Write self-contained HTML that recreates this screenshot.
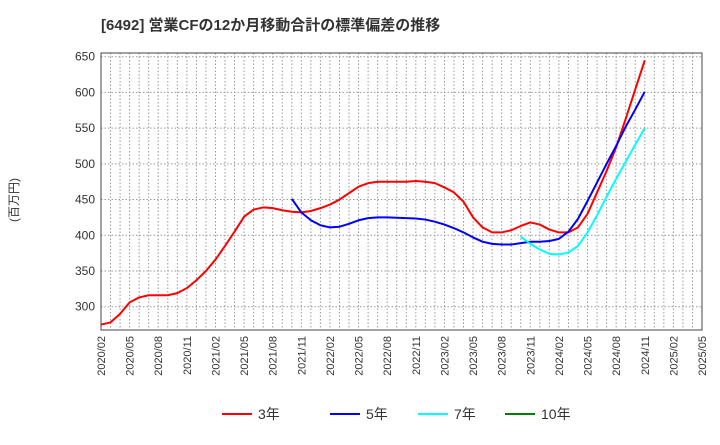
<!DOCTYPE html>
<html><head><meta charset="utf-8"><style>
body{margin:0;background:#fff;font-family:"Liberation Sans","Noto Sans CJK JP",sans-serif;}
svg text{font-family:"Liberation Sans","Noto Sans CJK JP",sans-serif;}
</style></head><body>
<svg id="c" width="720" height="440" xmlns="http://www.w3.org/2000/svg">
<text x="101" y="30" font-size="15" font-weight="bold" fill="#333">[6492]  営業CFの12か月移動合計の標準偏差の推移</text>
<text transform="translate(18,200) rotate(-90)" text-anchor="middle" font-size="12" fill="#333">(百万円)</text>
<g id="grid"></g><g id="axes"></g><g id="series"></g><g id="legend"></g>
</svg>
<script>
const yTicks=[300,350,400,450,500,550,600,650];
const xLabels=["2020/02","2020/05","2020/08","2020/11","2021/02","2021/05","2021/08","2021/11","2022/02","2022/05","2022/08","2022/11","2023/02","2023/05","2023/08","2023/11","2024/02","2024/05","2024/08","2024/11","2025/02","2025/05"];
const s3=[275,278,290,306,313,316,316,316,319,326,337,350,366,385,405,426,436,439,438,435,433,432,434,438,443,450,459,468,473,475,475,475,475,476,475,473,467,460,447,425,411,404,404,407,413,418,415,408,404,404,411,430,460,490,523,563,604,645];
const s3Start=0;
const s5=[451,432,421,414,411,412,416,421,424,425,425,424.5,424,423.5,422,419,415,410,404,397,391,388,387,387,389,391,391,392,395,405,423,448,474,500,525,552,576,601];
const s5Start=20;
const s7=[398,388,380,374,373,376,385,404,428,454,479,503,527,550];
const s7Start=44;
const s10=[];
const L=101,R=702,T=53,B=330,NM=63;
const xs=i=>L+(R-L)*i/NM;
const ys=v=>56.7+(650-v)*(250/350);
const NS="http://www.w3.org/2000/svg";
function mk(p,t,a){const e=document.createElementNS(NS,t);for(const k in a)e.setAttribute(k,a[k]);p.appendChild(e);return e;}
const g=document.getElementById('grid'),ax=document.getElementById('axes'),se=document.getElementById('series'),lg=document.getElementById('legend');
for(let i=1;i<NM;i++){const l=mk(g,'line',{x1:xs(i),x2:xs(i),y1:T,y2:B,stroke:'#999','stroke-dasharray':'1.5,2','stroke-width':1});

}
yTicks.forEach(v=>{const l=mk(g,'line',{x1:L,x2:R,y1:ys(v),y2:ys(v),stroke:'#999','stroke-dasharray':'1.5,2','stroke-width':1});


const t=mk(ax,'text',{x:L-6,y:ys(v)+4,'text-anchor':'end','font-size':12,fill:'#333'});t.textContent=v;

});
const fr=mk(ax,'rect',{x:L,y:T,width:R-L,height:B-T,fill:'none',stroke:'#444','stroke-width':1});


xLabels.forEach((s,i)=>{const x=xs(i*3);const t=mk(ax,'text',{transform:`translate(${x+4},${B+6}) rotate(-90)`,'text-anchor':'end','font-size':11,fill:'#333'});t.textContent=s;

});
function line(arr,st,col,name){if(!arr.length)return;const p=mk(se,'polyline',{points:arr.map((v,i)=>xs(st+i)+','+ys(v)).join(' '),fill:'none',stroke:col,'stroke-width':2,'stroke-linejoin':'round'});

}
line(s3,s3Start,'#ff0000','series-3yr');line(s5,s5Start,'#0000ff','series-5yr');line(s7,s7Start,'#00ffff','series-7yr');line(s10,0,'#008000','series-10yr');
const leg=[["3年","#ff0000",222],["5年","#0000ff",330],["7年","#00ffff",418],["10年","#008000",505]];
leg.forEach(([n,c,x])=>{const l=mk(lg,'line',{x1:x,x2:x+30,y1:414,y2:414,stroke:c,'stroke-width':2});


const t=mk(lg,'text',{x:x+36,y:419,'font-size':14,fill:'#333'});t.textContent=n;

});
</script>
</body></html>
